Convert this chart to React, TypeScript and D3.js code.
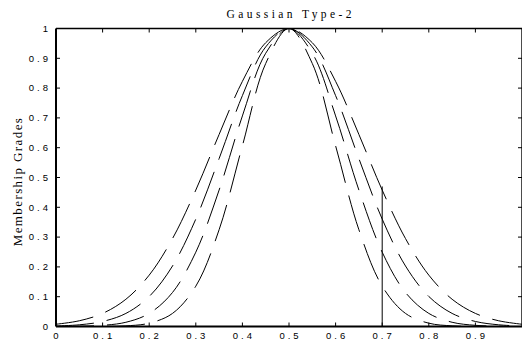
import React from "react";
import * as d3 from "d3";

// x positions (0 .. 1, step 0.05)
const xValues = [0, 0.05, 0.1, 0.15, 0.2, 0.25, 0.3, 0.35, 0.4, 0.45, 0.5, 0.55, 0.6, 0.65, 0.7, 0.75, 0.8, 0.85, 0.9, 0.95, 1];

// membership curves
const curveA = [0.0, 0.00004, 0.0003, 0.0022, 0.0111, 0.0439, 0.1353, 0.3247, 0.6065, 0.8825, 1, 0.8825, 0.6065, 0.3247, 0.1353, 0.0439, 0.0111, 0.0022, 0.0003, 0.00004, 0.0];
const curveB = [0.0002, 0.0009, 0.0039, 0.0142, 0.0439, 0.1141, 0.2494, 0.4578, 0.7066, 0.9169, 1, 0.9169, 0.7066, 0.4578, 0.2494, 0.1141, 0.0439, 0.0142, 0.0039, 0.0009, 0.0002];
const curveC = [0.0017, 0.0057, 0.0169, 0.0439, 0.1007, 0.203, 0.3604, 0.5633, 0.7748, 0.9382, 1, 0.9382, 0.7748, 0.5633, 0.3604, 0.203, 0.1007, 0.0439, 0.0169, 0.0057, 0.0017];
const curveD = [0.0076, 0.0192, 0.0439, 0.0914, 0.1724, 0.295, 0.4578, 0.6444, 0.8226, 0.9523, 1, 0.9523, 0.8226, 0.6444, 0.4578, 0.295, 0.1724, 0.0914, 0.0439, 0.0192, 0.0076];

// vertical marker at x = 0.7
const markerX = 0.7;
const markerTop = 0.47;

const xTicks = [0, 0.1, 0.2, 0.3, 0.4, 0.5, 0.6, 0.7, 0.8, 0.9];
const yTicks = [0, 0.1, 0.2, 0.3, 0.4, 0.5, 0.6, 0.7, 0.8, 0.9, 1];
const xTickLabels = ["0", "0.1", "0.2", "0.3", "0.4", "0.5", "0.6", "0.7", "0.8", "0.9"];
const yTickLabels = ["0", "0.1", "0.2", "0.3", "0.4", "0.5", "0.6", "0.7", "0.8", "0.9", "1"];

const title = "Gaussian Type-2";
const yLabel = "Membership Grades";

export default function App() {
  const W = 522, H = 344;
  const L = 56, R = 522, T = 28.5, B = 326.5;
  const x = d3.scaleLinear().domain([0, 1]).range([L, R]);
  const y = d3.scaleLinear().domain([0, 1]).range([B, T]);
  const line = d3
    .line<number>()
    .x((_, i) => x(xValues[i]))
    .y((d) => y(d))
    .curve(d3.curveCatmullRom.alpha(0.5));
  const curves = [curveA, curveB, curveC, curveD];
  const tl = 4;
  const lsTick = 3;
  const tickFont = "'Liberation Sans', Arial, sans-serif";
  const serif = "'Liberation Serif', 'Times New Roman', serif";

  return (
    <svg
      width={W}
      height={H}
      style={{ position: "absolute", left: 0, top: 0, background: "#fff" }}
    >
      <rect x={0} y={0} width={W} height={H} fill="#fff" />
      <defs>
        <clipPath id="plotclip">
          <rect x={L} y={T - 2} width={R - L} height={B - T + 2} />
        </clipPath>
      </defs>
      <g clipPath="url(#plotclip)">
        {curves.map((c, i) => (
          <path
            key={i}
            d={line(c) || ""}
            fill="none"
            stroke="#000"
            strokeWidth={1}
            strokeDasharray="38,13"
          />
        ))}
        <line
          x1={x(markerX)}
          x2={x(markerX)}
          y1={y(0)}
          y2={y(markerTop)}
          stroke="#000"
          strokeWidth={1}
        />
      </g>

      {/* ticks */}
      {xTicks.map((t, i) =>
        i === 0 ? null : (
          <g key={"xt" + i}>
            <line x1={x(t)} x2={x(t)} y1={B} y2={B - tl} stroke="#000" strokeWidth={1} />
            <line x1={x(t)} x2={x(t)} y1={T} y2={T + tl} stroke="#000" strokeWidth={1} />
          </g>
        )
      )}
      {yTicks.map((t, i) => (
        <g key={"yt" + i}>
          <line x1={L} x2={L + tl} y1={y(t)} y2={y(t)} stroke="#000" strokeWidth={1} />
          <line x1={R} x2={R - tl} y1={y(t)} y2={y(t)} stroke="#000" strokeWidth={1} />
        </g>
      ))}

      {/* frame */}
      <line x1={L} x2={R} y1={T} y2={T} stroke="#000" strokeWidth={1.4} />
      <line x1={L} x2={R} y1={B} y2={B} stroke="#000" strokeWidth={2} />
      <line x1={L} x2={L} y1={T} y2={B} stroke="#000" strokeWidth={2} />
      <line x1={R} x2={R} y1={T} y2={B} stroke="#000" strokeWidth={1.4} />

      {/* tick labels */}
      {xTickLabels.map((s, i) => (
        <text
          key={"xl" + i}
          x={x(xTicks[i]) + lsTick / 2}
          y={338.5}
          textAnchor="middle"
          fontFamily={tickFont}
          fontSize={9.5}
          letterSpacing={lsTick}
          fill="#000"
        >
          {s}
        </text>
      ))}
      {yTickLabels.map((s, i) => (
        <text
          key={"yl" + i}
          x={48 + lsTick}
          y={y(yTicks[i]) + 3.3}
          textAnchor="end"
          fontFamily={tickFont}
          fontSize={9.5}
          letterSpacing={lsTick}
          fill="#000"
        >
          {s}
        </text>
      ))}

      {/* title */}
      <text
        x={(L + R) / 2 + 1.7}
        y={18}
        textAnchor="middle"
        fontFamily={serif}
        fontSize={11.5}
        letterSpacing={3.4}
        fill="#000"
      >
        {title}
      </text>

      {/* y label */}
      <text
        transform={`translate(22, ${(T + B) / 2 + 4}) rotate(-90)`}
        textAnchor="middle"
        fontFamily={serif}
        fontSize={13}
        letterSpacing={1.4}
        fill="#000"
      >
        {yLabel}
      </text>
    </svg>
  );
}
